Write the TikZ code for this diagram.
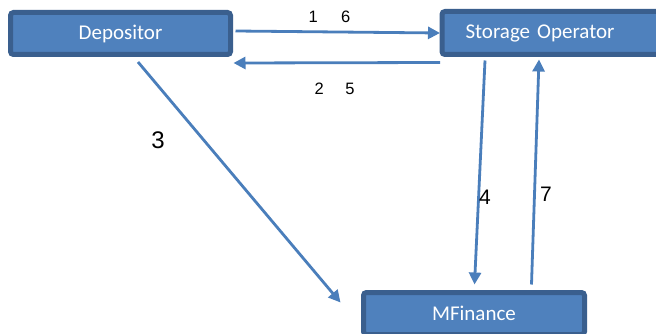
\documentclass[tikz,border=0pt]{standalone}
\usepackage{fontspec}
\setmainfont{Carlito}
\newfontfamily\numfont{Liberation Sans}
\usetikzlibrary{arrows.meta,calc}
\definecolor{boxfill}{HTML}{4F81BD}
\definecolor{boxedge}{HTML}{3A5F8E}
\definecolor{linecol}{HTML}{4A7EBB}
\begin{document}
\begin{tikzpicture}[x=1pt,y=-1pt,
  boxnode/.style={draw=boxedge,fill=boxfill,line width=5pt,rounded corners=3pt,
    text=white,font=\fontsize{21}{25}\selectfont,inner sep=0pt},
  conn/.style={draw=linecol,line width=2.8pt,-{Triangle[length=12pt,width=12pt]}},
  smallnum/.style={font=\numfont\fontsize{16.5}{19}\selectfont,inner sep=0pt},
  bignum/.style={font=\numfont\fontsize{21}{25}\selectfont,inner sep=0pt}]
\useasboundingbox (0,0) rectangle (656,334);
\clip (0,0) rectangle (656,334);
\fill[white] (0,0) rectangle (656,334);
\node[boxnode,minimum width=220pt,minimum height=42pt] (dep) at (120.5,33.5) {Depositor};
\node[boxnode,anchor=west,minimum height=43pt,text width=215pt,align=left,inner xsep=23.5pt] (so) at (439.5,33) {Storage Operator};
\node[boxnode,minimum width=221pt,minimum height=42pt] (mf) at (474,313.5) {MFinance};
\draw[conn] ($(dep.east)+(2.5,-2.5)$) -- ($(so.west)+(0.5,0)$);
\draw[conn] ($(so.south west)+(0.5,5.5)$) -- ($(dep.south east)+(0.5,6)$);
\draw[conn] ($(dep.south)+(17.5,5)$) -- ($(mf.north west)+(-20.5,12.5)$);
\draw[conn] ($(so.south west)+(45.5,3.5)$) -- ($(mf.north west)+(113.5,-5.5)$);
\draw[conn] ($(mf.north west)+(170.5,-5.5)$) -- ($(so.south west)+(99.5,2.5)$);
\node[smallnum] (l16) at (329.5,17) {1\hspace{23.5pt}6};
\node[smallnum] (l25) at (334.5,89) {2\hspace{21.5pt}5};
\node[bignum,font=\numfont\fontsize{24}{28}\selectfont] (l3) at (158,140) {3};
\node[bignum] (l4) at (485,197) {4};
\node[bignum] (l7) at (546,194) {7};
\end{tikzpicture}
\end{document}
